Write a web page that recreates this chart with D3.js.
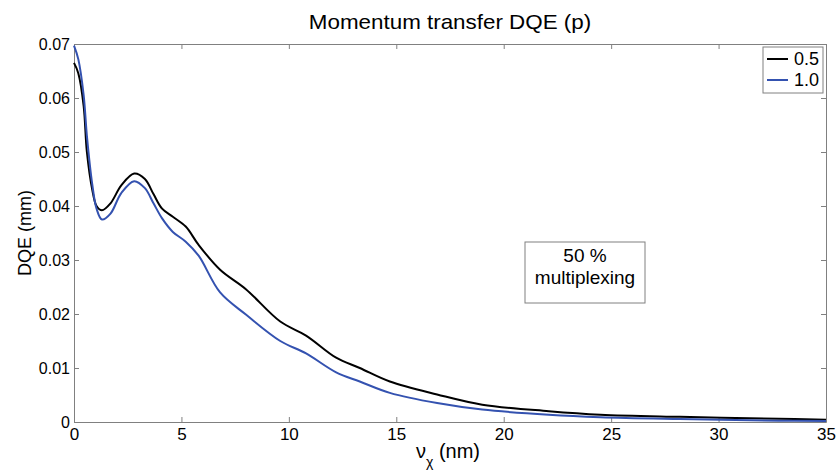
<!DOCTYPE html>
<html>
<head>
<meta charset="utf-8">
<script src="https://cdn.jsdelivr.net/npm/d3@7"></script>
<style>
	body { margin: 0; background: #fff; }
	text { font-family: Arial, "Liberation Sans", Helvetica, sans-serif; fill: #000; }
</style>
</head>
<body>
<div class="chart"></div>
<script>
// values
const xValues = [0, 0.2, 0.45, 0.6, 0.85, 1.05, 1.3, 1.7, 2.2, 2.8, 3.3, 3.7, 4.1, 4.6, 5.2, 5.8, 6.8, 8.0, 9.6, 10.8, 12.2, 13.3, 14.7, 16.9, 19.0, 22.1, 24.5, 28.2, 32.8, 35];
const dqe05 = [0.0665, 0.0646, 0.0585, 0.0500, 0.0430, 0.0400, 0.0392, 0.0405, 0.0438, 0.0460, 0.0450, 0.0422, 0.0395, 0.0380, 0.0362, 0.0328, 0.0282, 0.0246, 0.0186, 0.0160, 0.0119, 0.0100, 0.0075, 0.0051, 0.0032, 0.0020, 0.00135, 0.00095, 0.0006, 0.0004];
const dqe10 = [0.0697, 0.0672, 0.0605, 0.0530, 0.0440, 0.0395, 0.0375, 0.0386, 0.0424, 0.0446, 0.0433, 0.0405, 0.0377, 0.0352, 0.0334, 0.0308, 0.0240, 0.0199, 0.0150, 0.0127, 0.0092, 0.0075, 0.0054, 0.0035, 0.0023, 0.00135, 0.0009, 0.00056, 0.00025, 0.0002];
const seriesNames = ["0.5", "1.0"];
const seriesColors = ["#000000", "#3452b0"];
const xTicks = [0, 5, 10, 15, 20, 25, 30, 35];
const yTicks = [0, 0.01, 0.02, 0.03, 0.04, 0.05, 0.06, 0.07];

const width = 839, height = 472;
const margin = {top: 44, right: 13, bottom: 50, left: 74};
const axisColor = "#808080";

const svg = d3.select("div.chart").append("svg")
	.attr("width", width)
	.attr("height", height);

const x = d3.scaleLinear().domain([0, 35]).range([margin.left, width - margin.right]);
const y = d3.scaleLinear().domain([0, 0.07]).range([height - margin.bottom, margin.top]);

// box axes, ticks pointing inward
function styleAxis(g) {
	g.select(".domain").attr("stroke", axisColor);
	g.selectAll(".tick line").attr("stroke", axisColor);
}

svg.append("g")
	.attr("transform", `translate(0,${height - margin.bottom})`)
	.call(d3.axisBottom(x).tickValues(xTicks).tickSizeInner(-5).tickSizeOuter(0).tickPadding(6).tickFormat(d3.format("d")))
	.call(styleAxis)
	.call(g => g.selectAll("text").attr("font-size", 17));

svg.append("g")
	.attr("transform", `translate(0,${margin.top})`)
	.call(d3.axisTop(x).tickValues(xTicks).tickSizeInner(-5).tickSizeOuter(0).tickFormat(""))
	.call(styleAxis);

svg.append("g")
	.attr("transform", `translate(${margin.left},0)`)
	.call(d3.axisLeft(y).tickValues(yTicks).tickSizeInner(-5).tickSizeOuter(0).tickPadding(4)
		.tickFormat(d => d === 0 ? "0" : d3.format(".2f")(d)))
	.call(styleAxis)
	.call(g => g.selectAll("text").attr("font-size", 16));

svg.append("g")
	.attr("transform", `translate(${width - margin.right},0)`)
	.call(d3.axisRight(y).tickValues(yTicks).tickSizeInner(-5).tickSizeOuter(0).tickFormat(""))
	.call(styleAxis);

// curves
const line = d3.line()
	.x(d => x(d[0]))
	.y(d => y(d[1]))
	.curve(d3.curveCatmullRom.alpha(0.5));

[dqe05, dqe10].forEach((vals, i) => {
	svg.append("path")
		.datum(xValues.map((xv, j) => [xv, vals[j]]))
		.attr("fill", "none")
		.attr("stroke", seriesColors[i])
		.attr("stroke-width", 2)
		.attr("d", line);
});

// title and axis labels
svg.append("text")
	.attr("transform", `translate(${(margin.left + width - margin.right) / 2},29) scale(1.12,1)`)
	.attr("text-anchor", "middle")
	.attr("font-size", 20)
	.text("Momentum transfer DQE (p)");

svg.append("text")
	.attr("transform", "translate(31,233) rotate(-90)")
	.attr("text-anchor", "middle")
	.attr("font-size", 18)
	.text("DQE (mm)");

let xl = svg.append("text")
	.attr("x", 416)
	.attr("y", 458)
	.attr("font-size", 20);
xl.append("tspan").text("ν");
xl.append("tspan").attr("dy", 9).attr("font-size", 14).text("χ");
xl.append("tspan").attr("dy", -9).text(" (nm)");

// legend
const legend = svg.append("g");
legend.append("rect")
	.attr("x", 763).attr("y", 47)
	.attr("width", 60).attr("height", 46)
	.attr("fill", "#fff")
	.attr("stroke", axisColor);

seriesNames.forEach((name, i) => {
	let ly = 59 + i * 21;
	legend.append("line")
		.attr("x1", 767).attr("x2", 788)
		.attr("y1", ly).attr("y2", ly)
		.attr("stroke", seriesColors[i])
		.attr("stroke-width", 2);
	legend.append("text")
		.attr("x", 794).attr("y", ly + 6)
		.attr("font-size", 18)
		.text(name);
});

// annotation box
const note = svg.append("g");
note.append("rect")
	.attr("x", 525).attr("y", 242)
	.attr("width", 120).attr("height", 61)
	.attr("fill", "#fff")
	.attr("stroke", axisColor);
note.append("text")
	.attr("x", 585).attr("y", 262)
	.attr("text-anchor", "middle")
	.attr("font-size", 19)
	.text("50 %");
note.append("text")
	.attr("x", 585).attr("y", 284)
	.attr("text-anchor", "middle")
	.attr("font-size", 19)
	.text("multiplexing");
</script>
</body>
</html>
